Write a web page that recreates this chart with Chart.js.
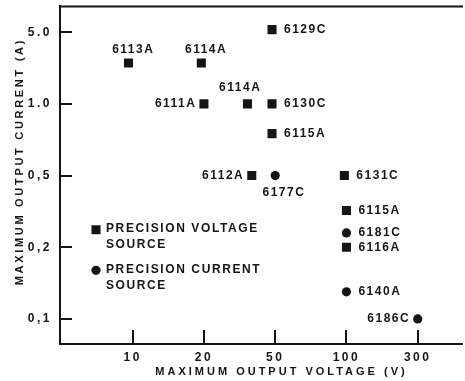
<!DOCTYPE html>
<html>
<head>
<meta charset="utf-8">
<script src="https://cdn.jsdelivr.net/npm/chart.js@4"></script>
<style>
  html, body { margin: 0; padding: 0; background: #fff; }
  canvas { display: block; }
</style>
</head>
<body>
<canvas id="chart" width="465" height="381"></canvas>
<script>
// axis ticks are evenly spaced in the original figure
const xTicks = [10, 20, 50, 100, 300];
const xTickLabels = ['10', '20', '50', '100', '300'];
const yTicks = [0.1, 0.2, 0.5, 1.0, 5.0];
const yTickLabels = ['0,1', '0,2', '0,5', '1.0', '5.0'];

// precision voltage sources (squares)
const voltageModels = ['6113A', '6114A', '6111A', '6114A', '6130C', '6129C', '6115A', '6112A', '6131C', '6115A', '6116A'];
const voltageVolts = [9.6, 19.5, 20, 35, 48, 48, 48, 37, 98, 100, 100];
const voltageAmps = [2.5, 2.5, 1.0, 1.0, 1.0, 5.3, 0.75, 0.5, 0.5, 0.32, 0.2];

// precision current sources (circles)
const currentModels = ['6177C', '6181C', '6140A', '6186C'];
const currentVolts = [50, 100, 100, 300];
const currentAmps = [0.5, 0.24, 0.13, 0.1];

// key markers inside the plot
const keyLabels = [['PRECISION VOLTAGE', 'SOURCE'], ['PRECISION CURRENT', 'SOURCE']];
const keyVolts = [7, 7];
const keyAmps = [0.25, 0.16];

const xTitle = 'MAXIMUM OUTPUT VOLTAGE (V)';
const yTitle = 'MAXIMUM OUTPUT CURRENT (A)';

// where each model label sits next to its mark
const voltageSides = ['top', 'top', 'left', 'topleft', 'right', 'right', 'right', 'left', 'right', 'right', 'right'];
const currentSides = ['below', 'right', 'right', 'left'];

const INK = '#151515';
const FONT = '"Liberation Sans", Arial, sans-serif';

// position between evenly spaced ticks, log inside each step
function axisPos(v, ticks) {
  let i = 0;
  while (i < ticks.length - 2 && v > ticks[i + 1]) i++;
  return i + Math.log(v / ticks[i]) / Math.log(ticks[i + 1] / ticks[i]);
}

function toPoints(volts, amps) {
  return volts.map((v, i) => ({ x: axisPos(v, xTicks), y: axisPos(amps[i], yTicks) }));
}

function drawText(ctx, text, x, y, align, spacing) {
  ctx.letterSpacing = spacing + 'px';
  // trailing spacing shifts aligned text, compensate
  let dx = 0;
  if (align === 'right') dx = spacing;
  else if (align === 'center') dx = spacing / 2;
  ctx.textAlign = align;
  ctx.fillText(text, x + dx, y);
}

const labelPlugin = {
  id: 'labels',
  beforeDraw(chart) {
    chart.ctx.letterSpacing = '2.5px';
  },
  afterDatasetsDraw(chart) {
    const ctx = chart.ctx;
    ctx.save();
    ctx.fillStyle = INK;
    ctx.font = 'bold 12px ' + FONT;
    ctx.textBaseline = 'middle';
    const sets = [[0, voltageModels, voltageSides], [1, currentModels, currentSides]];
    sets.forEach(([di, names, sides]) => {
      chart.getDatasetMeta(di).data.forEach((pt, i) => {
        const s = sides[i];
        if (s === 'right') drawText(ctx, names[i], pt.x + 12, pt.y, 'left', 1.5);
        else if (s === 'left') drawText(ctx, names[i], pt.x - 9, pt.y, 'right', 1.5);
        else if (s === 'top') drawText(ctx, names[i], pt.x + 4, pt.y - 13, 'center', 1.5);
        else if (s === 'topleft') drawText(ctx, names[i], pt.x - 8, pt.y - 16, 'center', 1.5);
        else if (s === 'below') drawText(ctx, names[i], pt.x + 8, pt.y + 17, 'center', 1.5);
      });
    });
    [2, 3].forEach((di, k) => {
      const pt = chart.getDatasetMeta(di).data[0];
      keyLabels[k].forEach((line, j) => {
        drawText(ctx, line, pt.x + 10, pt.y - 1 + j * 16, 'left', 1.6);
      });
    });
    ctx.restore();
  },
  afterDraw(chart) {
    const ctx = chart.ctx;
    const area = chart.chartArea;
    const xs = chart.scales.x, ys = chart.scales.y;
    const edge = chart.width - 2;
    ctx.save();
    ctx.strokeStyle = INK;
    ctx.lineWidth = 2;
    ctx.beginPath();
    // top frame line and bottom axis run on to the edge
    ctx.moveTo(area.left - 1, area.top);
    ctx.lineTo(edge, area.top);
    ctx.moveTo(area.left - 1, Math.round(area.bottom));
    ctx.lineTo(edge, Math.round(area.bottom));
    // inward tick marks
    xTicks.forEach((t, i) => {
      const px = Math.round(xs.getPixelForValue(i));
      ctx.moveTo(px, area.bottom);
      ctx.lineTo(px, area.bottom - 14);
    });
    yTicks.forEach((t, i) => {
      const py = Math.round(ys.getPixelForValue(i));
      ctx.moveTo(area.left, py);
      ctx.lineTo(area.left + 12, py);
    });
    ctx.stroke();

    ctx.fillStyle = INK;
    ctx.font = 'bold 11px ' + FONT;
    ctx.textBaseline = 'middle';
    drawText(ctx, xTitle, 280, 372, 'center', 3);
    ctx.translate(20, 163);
    ctx.rotate(-Math.PI / 2);
    drawText(ctx, yTitle, 0, 0, 'center', 2.7);
    ctx.restore();
  }
};

new Chart(document.getElementById('chart'), {
  type: 'scatter',
  data: {
    datasets: [
      {
        label: 'voltage',
        data: toPoints(voltageVolts, voltageAmps),
        pointStyle: 'rect',
        pointRadius: 6.4,
        backgroundColor: INK,
        borderColor: INK,
        borderWidth: 0
      },
      {
        label: 'current',
        data: toPoints(currentVolts, currentAmps),
        pointStyle: 'circle',
        pointRadius: 4.6,
        backgroundColor: INK,
        borderColor: INK,
        borderWidth: 0
      },
      {
        label: 'key voltage',
        data: toPoints([keyVolts[0]], [keyAmps[0]]),
        pointStyle: 'rect',
        pointRadius: 6.4,
        backgroundColor: INK,
        borderWidth: 0
      },
      {
        label: 'key current',
        data: toPoints([keyVolts[1]], [keyAmps[1]]),
        pointStyle: 'circle',
        pointRadius: 4.6,
        backgroundColor: INK,
        borderWidth: 0
      }
    ]
  },
  options: {
    responsive: false,
    animation: false,
    devicePixelRatio: 1,
    layout: { padding: { top: 5, right: 2, left: 0, bottom: 0 } },
    plugins: { legend: { display: false }, tooltip: { enabled: false } },
    scales: {
      x: {
        type: 'linear',
        min: -1.02,
        max: 4.574,
        afterBuildTicks: s => { s.ticks = xTicks.map((t, i) => ({ value: i })); },
        afterFit: s => { s.height = 37; s.paddingLeft = 0; s.paddingRight = 0; },
        grid: { display: false, drawTicks: false },
        border: { display: true, width: 2, color: INK },
        ticks: {
          autoSkip: false,
          maxRotation: 0,
          padding: 6,
          color: INK,
          font: { family: FONT, size: 12, weight: 'bold' },
          callback: (v, i) => xTickLabels[i]
        }
      },
      y: {
        type: 'linear',
        min: -0.35,
        max: 4.36,
        afterBuildTicks: s => { s.ticks = yTicks.map((t, i) => ({ value: i })); },
        afterFit: s => { s.width = 60; s.paddingTop = 0; s.paddingBottom = 0; },
        grid: { display: false, drawTicks: false },
        border: { display: true, width: 2, color: INK },
        ticks: {
          autoSkip: false,
          padding: 8,
          color: INK,
          font: { family: FONT, size: 12, weight: 'bold' },
          callback: (v, i) => yTickLabels[i]
        }
      }
    }
  },
  plugins: [labelPlugin]
});
</script>
</body>
</html>
